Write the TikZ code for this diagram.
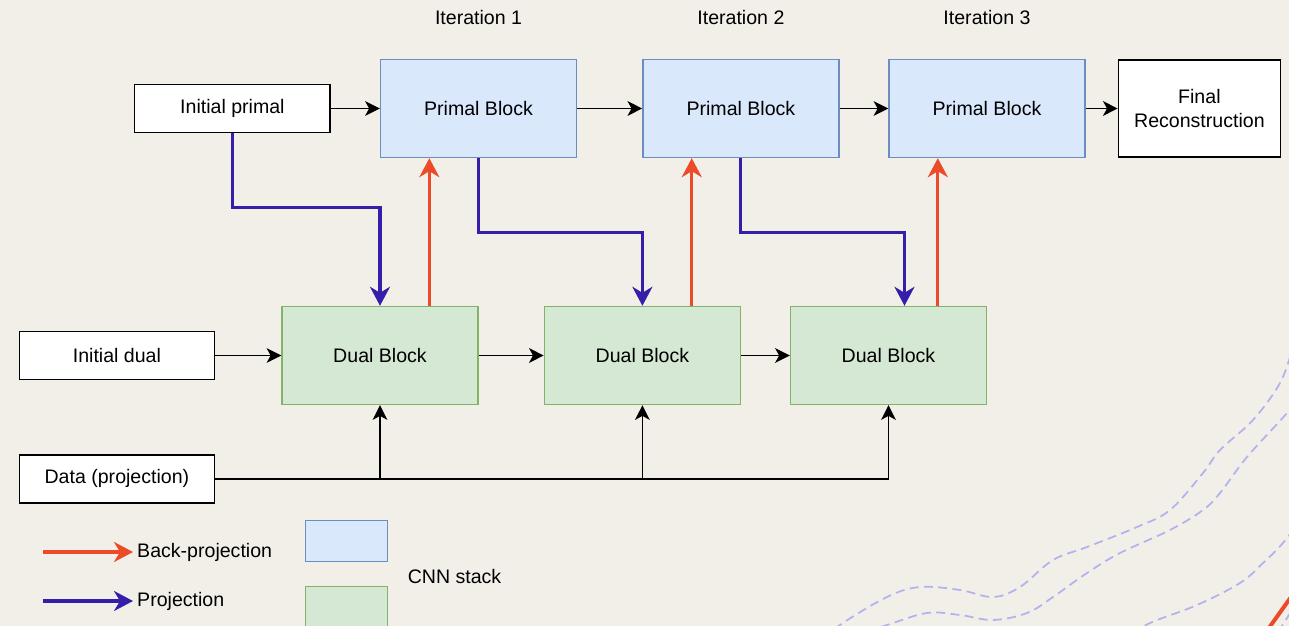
\documentclass[tikz,border=0pt]{standalone}
\usepackage{fontspec}
\setmainfont{Liberation Sans}
\usetikzlibrary{arrows.meta, positioning}
\definecolor{bgcol}{RGB}{242,239,233}
\definecolor{primfill}{RGB}{218,232,252}
\definecolor{primline}{RGB}{108,142,191}
\definecolor{dualfill}{RGB}{213,232,212}
\definecolor{dualline}{RGB}{130,179,102}
\definecolor{backred}{RGB}{236,74,40}
\definecolor{projblue}{RGB}{52,30,170}
\definecolor{wavecol}{RGB}{180,178,238}

\begin{document}
\begin{tikzpicture}[x=0.3mm, y=-0.3mm,
  font=\fontsize{16.7}{20.5}\selectfont,
  blk/.style={draw, line width=1.2pt, minimum width=58.8mm, minimum height=29.4mm,
              align=center, inner sep=0pt},
  prim/.style={blk, fill=primfill, draw=primline},
  dual/.style={blk, fill=dualfill, draw=dualline},
  plain/.style={blk, fill=white, draw=black, minimum width=58.6mm, minimum height=14.4mm},
  lbl/.style={inner sep=0pt},
  arr/.style={-{Stealth[length=4.4mm, width=4.4mm, inset=1.2mm]}, line width=1.4pt},
  back/.style={-{Stealth[length=5.7mm, width=6mm, inset=1.8mm]}, line width=2.6pt, draw=backred},
  proj/.style={back, draw=projblue},
  wave/.style={draw=wavecol, line width=1.5pt, dash pattern=on 2.7mm off 1.6mm}]
  \useasboundingbox (0,0) rectangle (1289,626);
  \fill[bgcol] (0,0) rectangle (1289,626);

  % primal row
  \node[prim] (p1) at (478.5,108.5) {Primal Block};
  \node[prim, right=19.5mm of p1] (p2) {Primal Block};
  \node[prim, right=14.6mm of p2] (p3) {Primal Block};
  \node[plain, right=9.6mm of p3, minimum width=48.6mm, minimum height=29mm] (fin) {Final\\Reconstruction};
  \node[plain, left=14.7mm of p1] (ip) {Initial primal};
  \node[lbl, above=10.2mm of p1] (it1) {Iteration 1};
  \node[lbl, above=10.2mm of p2] (it2) {Iteration 2};
  \node[lbl, above=10.2mm of p3] (it3) {Iteration 3};

  % dual row
  \node[dual] (d1) at (380,355.5) {Dual Block};
  \node[dual, right=19.5mm of d1] (d2) {Dual Block};
  \node[dual, right=14.6mm of d2] (d3) {Dual Block};
  \node[plain, left=19.8mm of d1] (id) {Initial dual};
  \node[plain, below=22.2mm of id] (data) {Data (projection)};

  \draw[arr] (ip) -- (p1);
  \draw[arr] (p1) -- (p2);
  \draw[arr] (p2) -- (p3);
  \draw[arr] (p3) -- (fin);
  \draw[arr] (id) -- (d1);
  \draw[arr] (d1) -- (d2);
  \draw[arr] (d2) -- (d3);
  \draw[arr] (data.east) -| (d3.south);
  \draw[arr] (data.east -| d1.south) -- (d1.south);
  \draw[arr] (data.east -| d2.south) -- (d2.south);

  % projection / back-projection
  \draw[proj] (ip.south) -- ++(0,74) -| (d1.north);
  \draw[proj] (p1.south) -- ++(0,74) -| (d2.north);
  \draw[proj] (p2.south) -- ++(0,74) -| ([xshift=4.8mm]d3.north);
  \foreach \d/\p in {d1/p1, d2/p2, d3/p3}
    \draw[back] ([xshift=14.8mm]\d.north) -- ([xshift=14.8mm]\d.north |- \p.south);

  % legend
  \coordinate (lbs) at (43,552);
  \coordinate (lps) at (43,601);
  \node[lbl, anchor=west] (lbp) at (137,552) {Back-projection};
  \node[lbl, anchor=west] (lpr) at (137,601) {Projection};
  \draw[back] (lbs) -- ([xshift=-1.2mm]lbp.west);
  \draw[proj] (lps) -- ([xshift=-1.2mm]lpr.west);
  \node[prim, minimum width=24.6mm, minimum height=12.3mm] (lgp) at (346.5,541) {};
  \node[lbl] (cnn) at (454.5,577) {CNN stack};

  \begin{scope}
    \clip (0,0) rectangle (1289,626);
    \node[dual, minimum width=24.6mm, minimum height=12.3mm] (lgd) at (346.5,607) {};
    \draw[wave] plot[smooth, tension=0.6] coordinates {(825,640) (840,625) (887,597) (920,587)
      (960,590) (993,597) (1020,587) (1053,560) (1087,547) (1137,527) (1170,510) (1203,473)
      (1220,450) (1253,420) (1280,383) (1292,350)};
    \draw[wave] plot[smooth, tension=0.6] coordinates {(840,640) (887,625) (927,613) (960,615)
      (993,620) (1027,613) (1053,597) (1087,573) (1120,553) (1170,530) (1203,510) (1220,493)
      (1247,457) (1287,413) (1300,395)};
    \draw[wave] plot[smooth, tension=0.6] coordinates {(1120,640) (1150,623) (1197,605)
      (1240,583) (1263,563) (1283,543) (1300,520)};
    \draw[wave] (1278,632) -- (1296,604);
    \draw[draw=backred, line width=3.4pt] (1266,632) -- (1296,590);
  \end{scope}
\end{tikzpicture}
\end{document}
